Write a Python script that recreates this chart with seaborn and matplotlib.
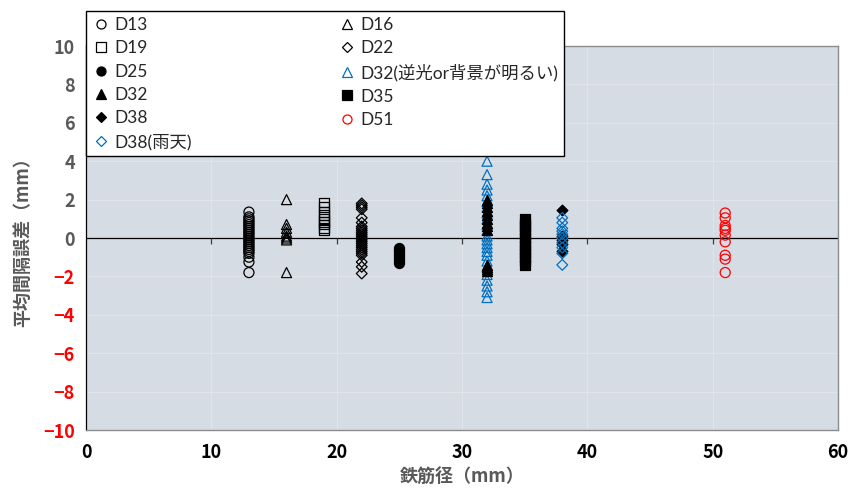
import numpy as np
import pandas as pd
import matplotlib
matplotlib.use('Agg')
import matplotlib.pyplot as plt
from matplotlib.lines import Line2D
import seaborn as sns

# Series labels and rebar diameters (mm)
labels = ['D13', 'D16', 'D19', 'D22', 'D25', 'D32(逆光or背景が明るい)',
          'D32', 'D35', 'D38', 'D51', 'D38(雨天)']
diameters = [13, 16, 19, 22, 25, 32, 32, 35, 38, 51, 38]

# Mean spacing error (mm)
d13 = [1.35, 1.1, 1.0, 0.9, 0.8, 0.7, 0.6, 0.5, 0.4, 0.3, 0.2, 0.1, 0.0,
       -0.1, -0.2, -0.3, -0.4, -0.5, -0.6, -0.7, -0.8, -1.0, -1.25, -1.8]
d16 = [2.0, 0.7, 0.5, 0.3, 0.1, 0.0, -0.1, -1.8]
d19 = [1.85, 1.6, 1.35, 1.2, 1.0, 0.85, 0.7, 0.5, 0.4]
d22 = [1.8, 1.7, 1.6, 1.5, 1.05, 0.8, 0.6, 0.5, 0.4, 0.3, 0.2, 0.1, 0.0,
       -0.1, -0.2, -0.3, -0.4, -0.5, -0.6, -0.7, -0.8, -0.9, -1.25, -1.5, -1.85]
d25 = [-0.5, -0.6, -0.7, -0.8, -0.9, -1.0, -1.1, -1.2, -1.3]
d32_bright = [4.0, 3.3, 2.8, 2.5, 2.2, 1.9, 1.6, 1.3, 1.0, 0.7, 0.4, 0.1,
              -0.1, -0.3, -0.5, -0.7, -0.9, -1.2, -1.5, -1.9, -2.2, -2.5,
              -2.8, -3.1]
d32 = [2.0, 1.8, 1.6, 1.4, 1.2, 1.0, 0.8, 0.6, 0.4, -1.4, -1.5, -1.6, -1.7]
d35 = [1.0, 0.8, 0.6, 0.4, 0.2, 0.0, -0.2, -0.4, -0.6, -0.8, -1.0, -1.2, -1.4]
d38 = [1.45, 0.1, -0.1, -0.3, -0.7]
d51 = [1.3, 1.05, 0.65, 0.5, 0.4, 0.15, -0.2, -0.9, -1.1, -1.8]
d38_rain = [1.05, 0.8, 0.5, 0.35, 0.2, 0.0, -0.25, -0.5, -0.8, -1.4]

series_values = [d13, d16, d19, d22, d25, d32_bright, d32, d35, d38, d51, d38_rain]

x_ticks = [0, 10, 20, 30, 40, 50, 60]
y_ticks = [-10, -8, -6, -4, -2, 0, 2, 4, 6, 8, 10]

# marker, face colour, edge colour
BLUE = '#0070C0'
styles = [
    ('o', 'none', 'black'),
    ('^', 'none', 'black'),
    ('s', 'none', 'black'),
    ('D', 'none', 'black'),
    ('o', 'black', 'black'),
    ('^', 'none', BLUE),
    ('^', 'black', 'black'),
    ('s', 'black', 'black'),
    ('D', 'black', 'black'),
    ('o', 'none', 'red'),
    ('D', 'none', BLUE),
]
marker_sizes = {'o': 52, '^': 52, 's': 50, 'D': 30}

sns.set_style('white')
plt.rcParams['font.family'] = ['Noto Sans CJK JP', 'DejaVu Sans']

fig = plt.figure(figsize=(8.52, 4.92), dpi=100)
ax = fig.add_axes([86 / 852, 1 - 430 / 492, (838 - 86) / 852, (430 - 46) / 492])
ax.set_facecolor('#D6DCE4')

for label, dia, vals, (mk, fc, ec) in zip(labels, diameters, series_values, styles):
    df = pd.DataFrame({'x': [dia] * len(vals), 'y': vals})
    sns.scatterplot(data=df, x='x', y='y', ax=ax, marker=mk, s=marker_sizes[mk],
                    facecolor=fc, edgecolor=ec, linewidth=0.9, zorder=3,
                    legend=False)

ax.set_xlim(0, 60)
ax.set_ylim(-10, 10)
ax.set_xticks(x_ticks)
ax.set_yticks(y_ticks)
ax.grid(True, color='#E0E4EA', linewidth=0.8, zorder=0)
ax.set_axisbelow(True)

# horizontal axis line at zero with small tick marks
ax.axhline(0, color='black', linewidth=0.9, zorder=2)
ax.vlines(x_ticks[1:-1], -0.3, 0, color='#404040', linewidth=0.9, zorder=2)

for side in ['top', 'right', 'bottom']:
    ax.spines[side].set_color('#8C8C8C')
    ax.spines[side].set_linewidth(1.0)
ax.spines['left'].set_color('black')
ax.spines['left'].set_linewidth(0.9)

ax.tick_params(axis='y', direction='out', length=4, width=0.8, color='#404040', pad=4)
ax.tick_params(axis='x', length=0, pad=9)

ax.set_xticklabels([str(t) for t in x_ticks], fontsize=13, fontweight='bold', color='black')
ax.set_yticklabels([str(t) if t >= 0 else '\u2212' + str(-t) for t in y_ticks],
                   fontsize=13, fontweight='bold')
for t, lab in zip(y_ticks, ax.get_yticklabels()):
    lab.set_color('red' if t < 0 else '#595959')

ax.set_xlabel('鉄筋径（mm）', fontsize=13, fontweight='bold', color='#595959', labelpad=4)
ax.set_ylabel('平均間隔誤差（mm）', fontsize=13, fontweight='bold', color='#595959', labelpad=8)

# legend: Excel order is row-major, matplotlib fills columns first
handles = []
for label, (mk, fc, ec) in zip(labels, styles):
    handles.append(Line2D([], [], linestyle='none', marker=mk, markersize=6.5 if mk != 'D' else 5.5,
                          markerfacecolor=fc, markeredgecolor=ec, markeredgewidth=0.9,
                          label=label))
order = [0, 2, 4, 6, 8, 10, 1, 3, 5, 7, 9]
leg = fig.legend(handles=[handles[i] for i in order], ncol=2, loc='upper left',
                 bbox_to_anchor=(86 / 852, 1 - 11 / 492), borderaxespad=0,
                 frameon=True, fancybox=False,
                 edgecolor='black', framealpha=1, handlelength=1.0,
                 handletextpad=0.3, columnspacing=8.4, labelspacing=0.42,
                 borderpad=0.35, prop={'family': ['Lato', 'Noto Sans CJK JP'], 'size': 12.5})
leg.get_frame().set_linewidth(1.0)

fig.savefig('out.png', dpi=100)
